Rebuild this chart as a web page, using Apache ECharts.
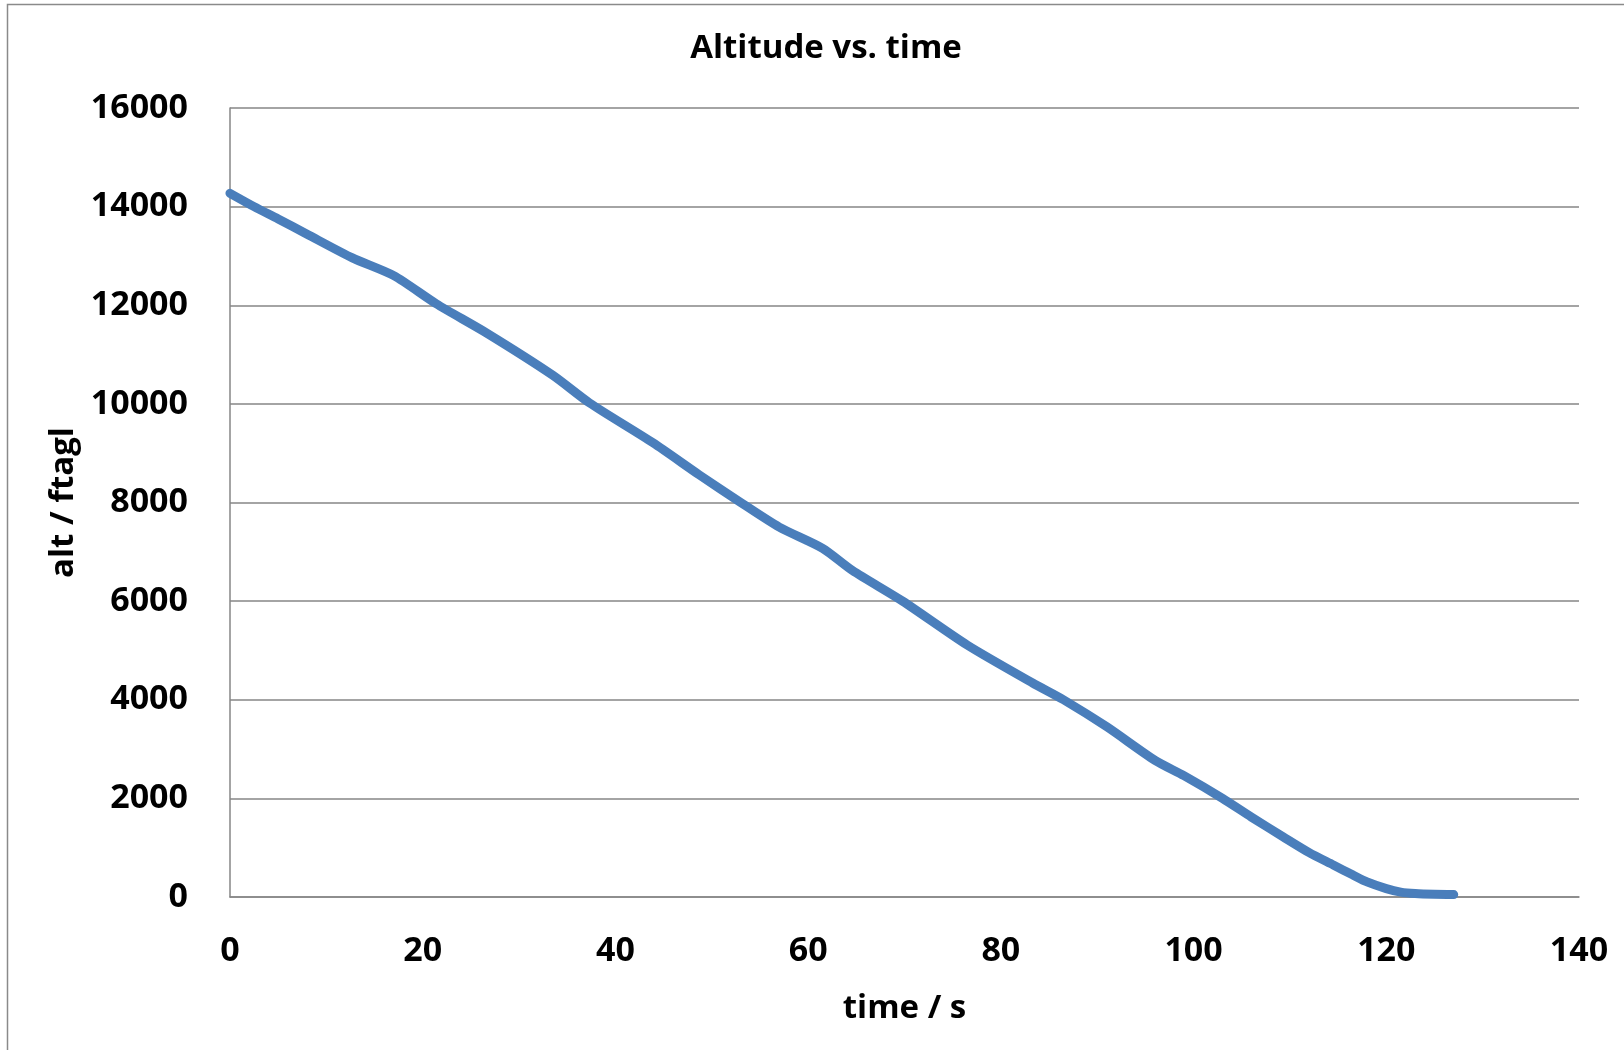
<!DOCTYPE html>
<html>
<head>
<meta charset="utf-8">
<script src="https://cdn.jsdelivr.net/npm/echarts@6/dist/echarts.min.js"></script>
<style>
html,body{margin:0;padding:0;background:#fff;}
#chart{width:1624px;height:1050px;}
</style>
</head>
<body>
<div id="chart"></div>
<script>
var timeS = [0, 2.5, 5, 8, 12.7, 17, 21.4, 26.6, 33.5, 37.3, 43.9, 48.7, 53, 57, 61.5, 64.6, 69.8, 76.5, 83.3, 86.5, 91, 96, 99, 103, 106, 109.3, 112, 114.5, 116.5, 118, 120, 121.5, 123, 125, 127];
var altFt = [14270, 14000, 13750, 13440, 12960, 12600, 12030, 11440, 10580, 10020, 9210, 8560, 8000, 7500, 7070, 6620, 6000, 5110, 4340, 4000, 3450, 2770, 2460, 2000, 1620, 1220, 900, 650, 450, 305, 170, 100, 70, 55, 50];
var xTicks = [0, 20, 40, 60, 80, 100, 120, 140];
var yTicks = [0, 2000, 4000, 6000, 8000, 10000, 12000, 14000, 16000];
var chartTitle = 'Altitude vs. time';
var xTitle = 'time / s';
var yTitle = 'alt / ftagl';

var points = timeS.map(function (t, i) { return [t, altFt[i]]; });
var font = '"Open Sans", "Liberation Sans", sans-serif';
var gray = '#868686';

var chart = echarts.init(document.getElementById('chart'), null, {renderer: 'canvas'});
chart.setOption({
  backgroundColor: '#ffffff',
  animation: false,
  title: {
    text: chartTitle,
    left: 821,
    top: 27,
    textAlign: 'center',
    textStyle: {fontFamily: font, fontWeight: 'bold', fontSize: 33, color: '#000'}
  },
  graphic: [{
    type: 'rect',
    shape: {x: 7.5, y: 4.5, width: 1700, height: 1100},
    style: {fill: 'none', stroke: '#8a8a8a', lineWidth: 1.5},
    silent: true
  }],
  grid: {left: 230, top: 108, width: 1349, height: 789, containLabel: false},
  xAxis: {
    type: 'value',
    min: xTicks[0],
    max: xTicks[xTicks.length - 1],
    interval: xTicks[1] - xTicks[0],
    name: xTitle,
    nameLocation: 'middle',
    nameGap: 95,
    nameTextStyle: {fontFamily: font, fontWeight: 'bold', fontSize: 33, color: '#000'},
    axisLine: {show: true, lineStyle: {color: gray, width: 1.5}},
    axisTick: {show: false},
    splitLine: {show: false},
    axisLabel: {fontFamily: font, fontWeight: 'bold', fontSize: 34, color: '#000', margin: 37,
      formatter: function (v) { return String(v); }}
  },
  yAxis: {
    type: 'value',
    min: yTicks[0],
    max: yTicks[yTicks.length - 1],
    interval: yTicks[1] - yTicks[0],
    name: yTitle,
    nameLocation: 'middle',
    nameGap: 150,
    nameRotate: 90,
    nameTextStyle: {fontFamily: font, fontWeight: 'bold', fontSize: 33, color: '#000'},
    axisLine: {show: true, lineStyle: {color: gray, width: 1.5}},
    axisTick: {show: false},
    splitLine: {show: true, lineStyle: {color: gray, width: 1.5}},
    axisLabel: {fontFamily: font, fontWeight: 'bold', fontSize: 34, color: '#000', margin: 42,
      formatter: function (v) { return String(v); }}
  },
  series: [{
    type: 'line',
    data: points,
    showSymbol: false,
    smooth: 0.25,
    clip: false,
    lineStyle: {color: '#4A7EBB', width: 9, cap: 'round', join: 'round'},
    itemStyle: {color: '#4A7EBB'}
  }]
});
</script>
</body>
</html>
